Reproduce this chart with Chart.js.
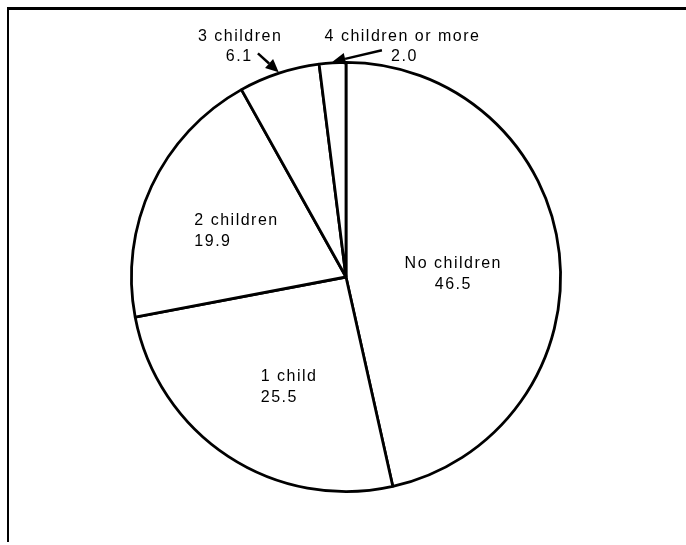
<!DOCTYPE html>
<html>
<head>
<meta charset="utf-8">
<script src="https://cdn.jsdelivr.net/npm/chart.js@4"></script>
<style>
  html, body { margin: 0; padding: 0; background: #fff; }
  .wrap { width: 686px; height: 545px; }
</style>
</head>
<body>
<div class="wrap"><canvas id="myChart" width="686" height="545"></canvas></div>
<script>
const categories = ["No children", "1 child", "2 children", "3 children", "4 children or more"];
const shares = [46.5, 25.5, 19.9, 6.1, 2.0];
const shareLabels = ["46.5", "25.5", "19.9", "6.1", "2.0"];

// label block centre relative to pie centre, in units of the radius
const labelPlacement = [
  {dx: 0.50, dy: -0.03, align: "center"},
  {dx: -0.265, dy: 0.50, align: "left"},
  {dx: -0.51, dy: -0.23, align: "left"},
  {dx: -0.69, dy: -1.10, align: "left", dx2: -0.56, top: true},
  {dx: -0.10, dy: -1.10, align: "left", dx2: 0.21, top: true}
];
// arrows for the thin slices: tail given as angle (deg from top) and radius factor
const arrows = [
  null, null, null,
  {tailDeg: 338.5, tailR: 1.12},
  {tailDeg: 9, tailR: 1.07}
];

const framePlugin = {
  id: "frame",
  afterDraw(chart) {
    const ctx = chart.ctx;
    ctx.save();
    ctx.strokeStyle = "#000";
    ctx.lineWidth = 3;
    ctx.beginPath();
    ctx.moveTo(7, 8.5);
    ctx.lineTo(chart.width, 8.5);
    ctx.stroke();
    ctx.lineWidth = 2;
    ctx.beginPath();
    ctx.moveTo(8, 8);
    ctx.lineTo(8, 542);
    ctx.stroke();
    ctx.restore();
  }
};

const labelPlugin = {
  id: "sliceLabels",
  afterDraw(chart) {
    const ctx = chart.ctx;
    const arcs = chart.getDatasetMeta(0).data;
    ctx.save();
    ctx.fillStyle = "#000";
    ctx.strokeStyle = "#000";
    ctx.font = "16px 'Liberation Sans', Arial, sans-serif";
    if ("letterSpacing" in ctx) ctx.letterSpacing = "1.5px";
    ctx.textBaseline = "alphabetic";
    arcs.forEach((arc, i) => {
      const {x, y, startAngle, endAngle, outerRadius} = arc.getProps(["x", "y", "startAngle", "endAngle", "outerRadius"], true);
      const p = labelPlacement[i];
      ctx.textAlign = p.align;
      let lx = x + p.dx * outerRadius;
      const ay = y + p.dy * outerRadius;
      let b1 = ay - 3, b2 = ay + 18;
      let lx2 = lx;
      if (p.top) {
        b1 = ay; b2 = ay + 20;
        lx2 = x + p.dx2 * outerRadius;
      } else if (p.align === "left") {
        const w = Math.max(ctx.measureText(categories[i]).width, ctx.measureText(shareLabels[i]).width);
        lx = lx - w / 2;
        lx2 = lx;
      }
      ctx.fillText(categories[i], lx, b1);
      ctx.fillText(shareLabels[i], lx2, b2);

      const a = arrows[i];
      if (a) {
        const mid = (startAngle + endAngle) / 2;
        const tipX = x + Math.cos(mid) * (outerRadius + 1);
        const tipY = y + Math.sin(mid) * (outerRadius + 1);
        const ta = (a.tailDeg - 90) * Math.PI / 180;
        const tailX = x + Math.cos(ta) * outerRadius * a.tailR;
        const tailY = y + Math.sin(ta) * outerRadius * a.tailR;
        const ang = Math.atan2(tipY - tailY, tipX - tailX);
        const headLen = 13, headW = 6;
        const bx = tipX - Math.cos(ang) * headLen;
        const by = tipY - Math.sin(ang) * headLen;
        ctx.lineWidth = 2.5;
        ctx.beginPath();
        ctx.moveTo(tailX, tailY);
        ctx.lineTo(bx, by);
        ctx.stroke();
        ctx.beginPath();
        ctx.moveTo(tipX, tipY);
        ctx.lineTo(bx + Math.sin(ang) * headW, by - Math.cos(ang) * headW);
        ctx.lineTo(bx - Math.sin(ang) * headW, by + Math.cos(ang) * headW);
        ctx.closePath();
        ctx.fill();
      }
    });
    ctx.restore();
  }
};

new Chart(document.getElementById("myChart").getContext("2d"), {
  type: "pie",
  data: {
    labels: categories,
    datasets: [{
      data: shares,
      backgroundColor: "#fff",
      borderColor: "#000",
      borderWidth: 2.8
    }]
  },
  options: {
    responsive: false,
    animation: false,
    layout: {padding: {left: 6, right: 0, top: 61, bottom: 52}},
    plugins: {
      legend: {display: false},
      tooltip: {enabled: false}
    }
  },
  plugins: [framePlugin, labelPlugin]
});
</script>
</body>
</html>
